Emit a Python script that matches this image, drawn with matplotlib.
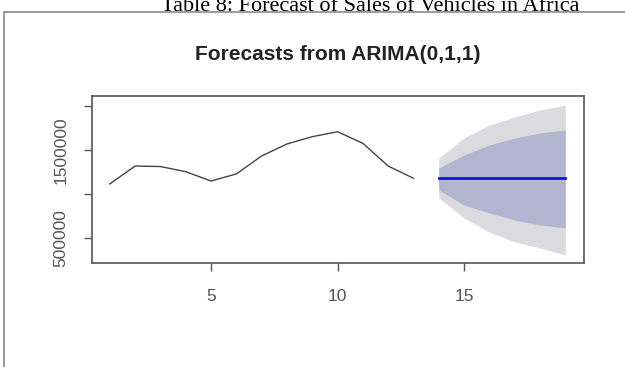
import numpy as np
import matplotlib
matplotlib.use("Agg")
import matplotlib.pyplot as plt
from matplotlib.patches import Rectangle

# observed sales, periods 1..13
years = np.arange(1, 14)
sales = [1115000, 1318000, 1312000, 1254000, 1148000, 1228000, 1432000,
         1568000, 1651000, 1707000, 1576000, 1318000, 1179000]

# forecast horizon 14..19 with 80% / 95% intervals
fc_years = np.arange(14, 20)
fc_mean = [1179000] * 6
lo80 = [1046000, 876000, 786000, 706000, 650000, 616000]
hi80 = [1296000, 1443000, 1557000, 1636000, 1693000, 1727000]
lo95 = [956000, 729000, 570000, 457000, 389000, 310000]
hi95 = [1409000, 1636000, 1783000, 1874000, 1953000, 2010000]

yticks = [500000, 1000000, 1500000, 2000000]
ytick_labels = ["500000", "", "1500000", ""]
xticks = [5, 10, 15]

plt.rcParams["font.family"] = ["Liberation Sans", "DejaVu Sans"]

fig = plt.figure(figsize=(6.25, 3.67), dpi=100)

# caption and the frame around the plot
fig.text(370 / 625, 1 - 11 / 367, "Table 8: Forecast of Sales of Vehicles in Africa",
         ha="center", va="baseline", fontsize=16, family="Liberation Serif")
fig.patches.append(Rectangle((4 / 625, -0.1), 1.1, 1 - 12 / 367 + 0.1,
                             transform=fig.transFigure, fill=False,
                             edgecolor="#8a8a8a", linewidth=1.2))

ax = fig.add_axes([91.6 / 625, 1 - 263 / 367, (583.5 - 91.6) / 625, (263 - 95.5) / 367])

ax.fill_between(fc_years, lo95, hi95, color="#dadadf", linewidth=0)
ax.fill_between(fc_years, lo80, hi80, color="#b2b5d0", linewidth=0)
ax.plot(fc_years, fc_mean, color="#1010e0", linewidth=2)
ax.plot(years, sales, color="#444444", linewidth=1)

ax.set_xlim(0.28, 19.72)
ax.set_ylim(218000, 2118000)
ax.set_xticks(xticks)
ax.set_yticks(yticks)
ax.set_yticklabels(ytick_labels, rotation=90, va="center")

for s in ax.spines.values():
    s.set_color("#555555")
    s.set_linewidth(1.2)
ax.tick_params(axis="both", colors="#555555", labelcolor="#555555",
               labelsize=12.5, length=5.5, width=1)
ax.tick_params(axis="x", pad=13)
ax.tick_params(axis="y", pad=11)

fig.text(337.7 / 625, 1 - 54 / 367, "Forecasts from ARIMA(0,1,1)",
         ha="center", va="center", fontsize=15, fontweight="bold", color="#222222")

fig.savefig("out.png", dpi=100)
